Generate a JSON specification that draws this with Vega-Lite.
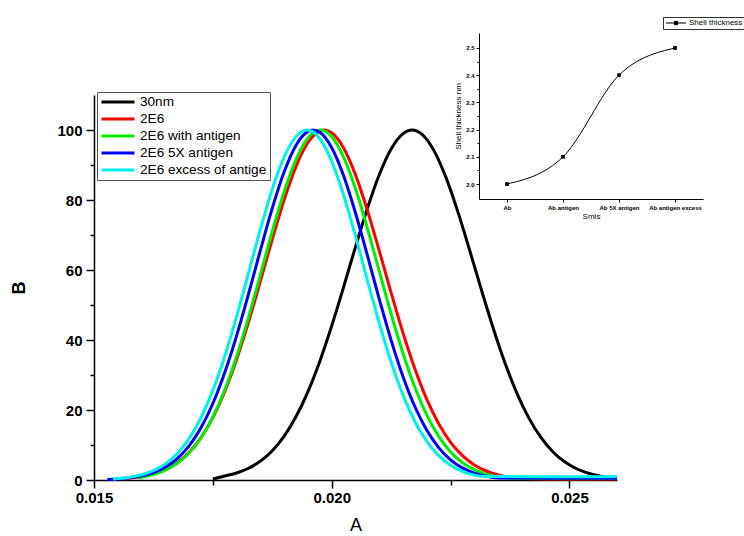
{
  "$schema": "https://vega.github.io/schema/vega-lite/v6.json",
  "width": 523,
  "height": 385,
  "autosize": {"type": "none"},
  "padding": {"left": 94, "top": 95, "right": 127, "bottom": 56},
  "background": "white",
  "config": {
    "view": {"stroke": null},
    "font": "Liberation Sans",
    "axis": {"grid": false, "domainColor": "black", "tickColor": "black", "labelColor": "black", "titleColor": "black"}
  },
  "datasets": {
    "curves": [
      {"series": "30nm", "A": 0.0175, "B": 0.3},
      {"series": "30nm", "A": 0.01775, "B": 1.16},
      {"series": "30nm", "A": 0.018, "B": 2.01},
      {"series": "30nm", "A": 0.01825, "B": 3.35},
      {"series": "30nm", "A": 0.0185, "B": 5.39},
      {"series": "30nm", "A": 0.01875, "B": 8.37},
      {"series": "30nm", "A": 0.019, "B": 12.53},
      {"series": "30nm", "A": 0.01925, "B": 18.12},
      {"series": "30nm", "A": 0.0195, "B": 25.26},
      {"series": "30nm", "A": 0.01975, "B": 33.96},
      {"series": "30nm", "A": 0.02, "B": 44.07},
      {"series": "30nm", "A": 0.02025, "B": 55.15},
      {"series": "30nm", "A": 0.0205, "B": 66.61},
      {"series": "30nm", "A": 0.02075, "B": 77.61},
      {"series": "30nm", "A": 0.021, "B": 87.23},
      {"series": "30nm", "A": 0.02125, "B": 94.59},
      {"series": "30nm", "A": 0.0215, "B": 98.97},
      {"series": "30nm", "A": 0.02169, "B": 100},
      {"series": "30nm", "A": 0.0219, "B": 98.74},
      {"series": "30nm", "A": 0.02215, "B": 94.11},
      {"series": "30nm", "A": 0.0224, "B": 86.53},
      {"series": "30nm", "A": 0.02265, "B": 76.76},
      {"series": "30nm", "A": 0.0229, "B": 65.7},
      {"series": "30nm", "A": 0.02315, "B": 54.24},
      {"series": "30nm", "A": 0.0234, "B": 43.21},
      {"series": "30nm", "A": 0.02365, "B": 33.21},
      {"series": "30nm", "A": 0.0239, "B": 24.62},
      {"series": "30nm", "A": 0.02415, "B": 17.61},
      {"series": "30nm", "A": 0.0244, "B": 12.16},
      {"series": "30nm", "A": 0.02465, "B": 8.09},
      {"series": "30nm", "A": 0.0249, "B": 5.2},
      {"series": "30nm", "A": 0.02515, "B": 3.22},
      {"series": "30nm", "A": 0.0254, "B": 1.93},
      {"series": "30nm", "A": 0.02565, "B": 1.11},
      {"series": "30nm", "A": 0.0258, "B": 0.7},

      {"series": "2E6", "A": 0.01567, "B": 0.4},
      {"series": "2E6", "A": 0.016, "B": 0.96},
      {"series": "2E6", "A": 0.01625, "B": 1.73},
      {"series": "2E6", "A": 0.0165, "B": 2.98},
      {"series": "2E6", "A": 0.01675, "B": 4.94},
      {"series": "2E6", "A": 0.017, "B": 7.89},
      {"series": "2E6", "A": 0.01725, "B": 12.09},
      {"series": "2E6", "A": 0.0175, "B": 17.82},
      {"series": "2E6", "A": 0.01775, "B": 25.26},
      {"series": "2E6", "A": 0.018, "B": 34.44},
      {"series": "2E6", "A": 0.01825, "B": 45.1},
      {"series": "2E6", "A": 0.0185, "B": 56.81},
      {"series": "2E6", "A": 0.01875, "B": 68.79},
      {"series": "2E6", "A": 0.019, "B": 80.07},
      {"series": "2E6", "A": 0.01925, "B": 89.62},
      {"series": "2E6", "A": 0.0195, "B": 96.42},
      {"series": "2E6", "A": 0.01984, "B": 100},
      {"series": "2E6", "A": 0.02, "B": 99.2},
      {"series": "2E6", "A": 0.02025, "B": 94.85},
      {"series": "2E6", "A": 0.0205, "B": 87.18},
      {"series": "2E6", "A": 0.02075, "B": 77.04},
      {"series": "2E6", "A": 0.021, "B": 65.46},
      {"series": "2E6", "A": 0.02125, "B": 53.47},
      {"series": "2E6", "A": 0.0215, "B": 41.98},
      {"series": "2E6", "A": 0.02175, "B": 31.7},
      {"series": "2E6", "A": 0.022, "B": 23.01},
      {"series": "2E6", "A": 0.02225, "B": 16.05},
      {"series": "2E6", "A": 0.0225, "B": 10.77},
      {"series": "2E6", "A": 0.02275, "B": 6.95},
      {"series": "2E6", "A": 0.023, "B": 4.31},
      {"series": "2E6", "A": 0.02325, "B": 2.57},
      {"series": "2E6", "A": 0.0235, "B": 1.47},
      {"series": "2E6", "A": 0.02375, "B": 0.81},
      {"series": "2E6", "A": 0.024, "B": 0.45},
      {"series": "2E6", "A": 0.025, "B": 0.3},
      {"series": "2E6", "A": 0.026, "B": 0.3},

      {"series": "2E6 with antigen", "A": 0.01593, "B": 0.5},
      {"series": "2E6 with antigen", "A": 0.01625, "B": 1.59},
      {"series": "2E6 with antigen", "A": 0.0165, "B": 2.82},
      {"series": "2E6 with antigen", "A": 0.01675, "B": 4.77},
      {"series": "2E6 with antigen", "A": 0.017, "B": 7.74},
      {"series": "2E6 with antigen", "A": 0.01725, "B": 12.05},
      {"series": "2E6 with antigen", "A": 0.0175, "B": 17.99},
      {"series": "2E6 with antigen", "A": 0.01775, "B": 25.72},
      {"series": "2E6 with antigen", "A": 0.018, "B": 35.31},
      {"series": "2E6 with antigen", "A": 0.01825, "B": 46.48},
      {"series": "2E6 with antigen", "A": 0.0185, "B": 58.66},
      {"series": "2E6 with antigen", "A": 0.01875, "B": 70.99},
      {"series": "2E6 with antigen", "A": 0.019, "B": 82.36},
      {"series": "2E6 with antigen", "A": 0.01925, "B": 91.63},
      {"series": "2E6 with antigen", "A": 0.0195, "B": 97.76},
      {"series": "2E6 with antigen", "A": 0.01976, "B": 100},
      {"series": "2E6 with antigen", "A": 0.02, "B": 98.09},
      {"series": "2E6 with antigen", "A": 0.02025, "B": 92.25},
      {"series": "2E6 with antigen", "A": 0.0205, "B": 83.19},
      {"series": "2E6 with antigen", "A": 0.02075, "B": 71.94},
      {"series": "2E6 with antigen", "A": 0.021, "B": 59.66},
      {"series": "2E6 with antigen", "A": 0.02125, "B": 47.43},
      {"series": "2E6 with antigen", "A": 0.0215, "B": 36.16},
      {"series": "2E6 with antigen", "A": 0.02175, "B": 26.44},
      {"series": "2E6 with antigen", "A": 0.022, "B": 18.53},
      {"series": "2E6 with antigen", "A": 0.02225, "B": 12.46},
      {"series": "2E6 with antigen", "A": 0.0225, "B": 8.03},
      {"series": "2E6 with antigen", "A": 0.02275, "B": 4.96},
      {"series": "2E6 with antigen", "A": 0.023, "B": 2.94},
      {"series": "2E6 with antigen", "A": 0.02325, "B": 1.67},
      {"series": "2E6 with antigen", "A": 0.0235, "B": 0.91},
      {"series": "2E6 with antigen", "A": 0.02375, "B": 0.5},
      {"series": "2E6 with antigen", "A": 0.025, "B": 0.4},
      {"series": "2E6 with antigen", "A": 0.026, "B": 0.4},

      {"series": "2E6 5X antigen", "A": 0.01528, "B": 0.17},
      {"series": "2E6 5X antigen", "A": 0.0155, "B": 0.31},
      {"series": "2E6 5X antigen", "A": 0.01575, "B": 0.62},
      {"series": "2E6 5X antigen", "A": 0.016, "B": 1.17},
      {"series": "2E6 5X antigen", "A": 0.01625, "B": 2.12},
      {"series": "2E6 5X antigen", "A": 0.0165, "B": 3.68},
      {"series": "2E6 5X antigen", "A": 0.01675, "B": 6.12},
      {"series": "2E6 5X antigen", "A": 0.017, "B": 9.77},
      {"series": "2E6 5X antigen", "A": 0.01725, "B": 14.93},
      {"series": "2E6 5X antigen", "A": 0.0175, "B": 21.85},
      {"series": "2E6 5X antigen", "A": 0.01775, "B": 30.69},
      {"series": "2E6 5X antigen", "A": 0.018, "B": 41.25},
      {"series": "2E6 5X antigen", "A": 0.01825, "B": 53.17},
      {"series": "2E6 5X antigen", "A": 0.0185, "B": 65.65},
      {"series": "2E6 5X antigen", "A": 0.01875, "B": 77.68},
      {"series": "2E6 5X antigen", "A": 0.019, "B": 88.07},
      {"series": "2E6 5X antigen", "A": 0.01925, "B": 95.67},
      {"series": "2E6 5X antigen", "A": 0.0195, "B": 99.59},
      {"series": "2E6 5X antigen", "A": 0.01961, "B": 100},
      {"series": "2E6 5X antigen", "A": 0.01975, "B": 99.33},
      {"series": "2E6 5X antigen", "A": 0.02, "B": 94.94},
      {"series": "2E6 5X antigen", "A": 0.02025, "B": 86.95},
      {"series": "2E6 5X antigen", "A": 0.0205, "B": 76.3},
      {"series": "2E6 5X antigen", "A": 0.02075, "B": 64.16},
      {"series": "2E6 5X antigen", "A": 0.021, "B": 51.69},
      {"series": "2E6 5X antigen", "A": 0.02125, "B": 39.91},
      {"series": "2E6 5X antigen", "A": 0.0215, "B": 29.53},
      {"series": "2E6 5X antigen", "A": 0.02175, "B": 20.93},
      {"series": "2E6 5X antigen", "A": 0.022, "B": 14.22},
      {"series": "2E6 5X antigen", "A": 0.02225, "B": 9.26},
      {"series": "2E6 5X antigen", "A": 0.0225, "B": 5.77},
      {"series": "2E6 5X antigen", "A": 0.02275, "B": 3.45},
      {"series": "2E6 5X antigen", "A": 0.023, "B": 1.97},
      {"series": "2E6 5X antigen", "A": 0.02325, "B": 1.08},
      {"series": "2E6 5X antigen", "A": 0.0235, "B": 0.6},
      {"series": "2E6 5X antigen", "A": 0.025, "B": 0.5},
      {"series": "2E6 5X antigen", "A": 0.026, "B": 0.5},

      {"series": "2E6 excess of antige", "A": 0.0154, "B": 0.31},
      {"series": "2E6 excess of antige", "A": 0.01575, "B": 0.8},
      {"series": "2E6 excess of antige", "A": 0.016, "B": 1.49},
      {"series": "2E6 excess of antige", "A": 0.01625, "B": 2.67},
      {"series": "2E6 excess of antige", "A": 0.0165, "B": 4.58},
      {"series": "2E6 excess of antige", "A": 0.01675, "B": 7.52},
      {"series": "2E6 excess of antige", "A": 0.017, "B": 11.81},
      {"series": "2E6 excess of antige", "A": 0.01725, "B": 17.79},
      {"series": "2E6 excess of antige", "A": 0.0175, "B": 25.63},
      {"series": "2E6 excess of antige", "A": 0.01775, "B": 35.38},
      {"series": "2E6 excess of antige", "A": 0.018, "B": 46.75},
      {"series": "2E6 excess of antige", "A": 0.01825, "B": 59.14},
      {"series": "2E6 excess of antige", "A": 0.0185, "B": 71.64},
      {"series": "2E6 excess of antige", "A": 0.01875, "B": 83.11},
      {"series": "2E6 excess of antige", "A": 0.019, "B": 92.31},
      {"series": "2E6 excess of antige", "A": 0.01925, "B": 98.18},
      {"series": "2E6 excess of antige", "A": 0.01948, "B": 100},
      {"series": "2E6 excess of antige", "A": 0.01975, "B": 97.5},
      {"series": "2E6 excess of antige", "A": 0.02, "B": 91.04},
      {"series": "2E6 excess of antige", "A": 0.02025, "B": 81.39},
      {"series": "2E6 excess of antige", "A": 0.0205, "B": 69.68},
      {"series": "2E6 excess of antige", "A": 0.02075, "B": 57.12},
      {"series": "2E6 excess of antige", "A": 0.021, "B": 44.83},
      {"series": "2E6 excess of antige", "A": 0.02125, "B": 33.7},
      {"series": "2E6 excess of antige", "A": 0.0215, "B": 24.25},
      {"series": "2E6 excess of antige", "A": 0.02175, "B": 16.71},
      {"series": "2E6 excess of antige", "A": 0.022, "B": 11.03},
      {"series": "2E6 excess of antige", "A": 0.02225, "B": 6.97},
      {"series": "2E6 excess of antige", "A": 0.0225, "B": 4.21},
      {"series": "2E6 excess of antige", "A": 0.02275, "B": 2.44},
      {"series": "2E6 excess of antige", "A": 0.023, "B": 1.4},
      {"series": "2E6 excess of antige", "A": 0.02325, "B": 1.0},
      {"series": "2E6 excess of antige", "A": 0.0235, "B": 1.0},
      {"series": "2E6 excess of antige", "A": 0.025, "B": 0.9},
      {"series": "2E6 excess of antige", "A": 0.026, "B": 1.0}
    ],
    "inset": [
      {"Smls": "Ab", "T": 2.0},
      {"Smls": "Ab antigen", "T": 2.1},
      {"Smls": "Ab 5X antigen", "T": 2.4},
      {"Smls": "Ab antigen excess", "T": 2.5}
    ]
  },
  "layer": [
    {
      "data": {"name": "curves"},
      "mark": {"type": "line", "interpolate": "monotone", "strokeWidth": 3, "clip": false},
      "encoding": {
        "x": {
          "field": "A", "type": "quantitative",
          "scale": {"domain": [0.015, 0.026], "nice": false, "zero": false},
          "axis": {
            "orient": "bottom",
            "values": [0.015, 0.0175, 0.02, 0.0225, 0.025],
            "labelExpr": "round(datum.value*10000) % 50 == 0 ? format(datum.value, '.3f') : ''",
            "tickSize": {"condition": {"test": "round(datum.value*10000) % 50 == 0", "value": 8}, "value": 5},
            "title": "A", "titleFontSize": 18, "titleFontWeight": "normal", "titlePadding": 11,
            "labelFontSize": 15, "labelFontWeight": "bold", "labelPadding": 2,
            "labelFlush": false, "labelOverlap": false,
            "domainWidth": 1.5, "tickWidth": 1.5
          }
        },
        "y": {
          "field": "B", "type": "quantitative",
          "scale": {"domain": [0, 110], "nice": false},
          "axis": {
            "orient": "left",
            "values": [0, 10, 20, 30, 40, 50, 60, 70, 80, 90, 100],
            "labelExpr": "datum.value % 20 == 0 ? format(datum.value, 'd') : ''",
            "tickSize": {"condition": {"test": "datum.value % 20 == 0", "value": 8}, "value": 4},
            "title": "B", "titleFontSize": 18, "titleFontWeight": "bold", "titlePadding": 28,
            "labelFontSize": 15, "labelFontWeight": "bold", "labelPadding": 4,
            "labelFlush": false, "labelOverlap": false,
            "domainWidth": 1.5, "tickWidth": 1.5
          }
        },
        "color": {
          "field": "series", "type": "nominal",
          "scale": {
            "domain": ["30nm", "2E6", "2E6 with antigen", "2E6 5X antigen", "2E6 excess of antige"],
            "range": ["#000000", "#ff0000", "#00ee00", "#0000ff", "#00f0f0"]
          },
          "legend": {
            "title": null, "orient": "none", "legendX": 3, "legendY": -3,
            "symbolType": "M-1,0H5", "symbolSize": 121, "symbolStrokeWidth": 3,
            "labelFontSize": 13.6, "labelOffset": 26, "labelLimit": 300,
            "padding": 3, "rowPadding": 3,
            "strokeColor": "#555555", "fillColor": "white", "cornerRadius": 0
          }
        }
      }
    },
    {
      "data": {"name": "inset"},
      "encoding": {
        "x": {
          "field": "Smls", "type": "nominal", "sort": null,
          "scale": {"type": "point", "range": [385, 609], "padding": 0.5},
          "axis": {
            "orient": "bottom", "offset": -281,
            "title": "Smls", "titleFontSize": 8, "titleFontWeight": "normal", "titlePadding": 2,
            "labelFontSize": 6, "labelFontWeight": "bold", "labelPadding": 2, "labelAngle": 0,
            "labelOverlap": false, "tickSize": 3, "domainWidth": 1, "tickWidth": 1
          }
        },
        "y": {
          "field": "T", "type": "quantitative",
          "scale": {"domain": [1.945, 2.555], "range": [104, -62], "nice": false, "zero": false},
          "axis": {
            "orient": "left", "offset": -385,
            "values": [2.0, 2.05, 2.1, 2.15, 2.2, 2.25, 2.3, 2.35, 2.4, 2.45, 2.5],
            "labelExpr": "round(datum.value*100) % 10 == 0 ? format(datum.value, '.1f') : ''",
            "tickSize": {"condition": {"test": "round(datum.value*100) % 10 == 0", "value": 3}, "value": 2},
            "title": "Shell thickness nm", "titleFontSize": 8, "titleFontWeight": "normal", "titlePadding": 3,
            "labelFontSize": 6, "labelFontWeight": "bold", "labelPadding": 2,
            "labelOverlap": false, "domainWidth": 1, "tickWidth": 1
          }
        }
      },
      "layer": [
        {
          "mark": {"type": "line", "interpolate": "monotone", "strokeWidth": 1},
          "encoding": {
            "color": {
              "datum": "Shell thickness nm",
              "scale": {"range": ["black"]},
              "legend": {
                "title": null, "orient": "none", "legendX": 569, "legendY": -78,
                "symbolType": "M-1,0H5.67M1.78,-0.55H2.88V0.55H1.78Z", "symbolSize": 36,
                "symbolStrokeWidth": 1, "symbolStrokeColor": "black", "symbolFillColor": "black",
                "labelFontSize": 8, "labelOffset": 16, "labelLimit": 300,
                "padding": 2, "strokeColor": "#333333", "fillColor": "white",
                "encode": {"symbols": {"update": {"fill": {"value": "black"}, "stroke": {"value": "black"}, "strokeWidth": {"value": 1}, "opacity": {"value": 1}}}}
              }
            }
          }
        },
        {
          "mark": {"type": "point", "shape": "square", "filled": true, "size": 14, "opacity": 1, "color": "black"}
        }
      ]
    }
  ],
  "resolve": {
    "scale": {"x": "independent", "y": "independent", "color": "independent"},
    "axis": {"x": "independent", "y": "independent"}
  }
}
